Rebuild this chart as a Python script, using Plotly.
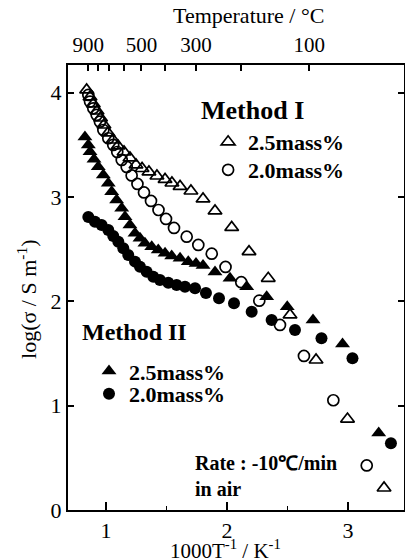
import plotly.graph_objects as go

# ---- data (x = 1000/T in K^-1, y = log(sigma / S m^-1)) ----
m1_25_x = [0.840, 0.868, 0.895, 0.926, 0.955, 0.983, 1.017, 1.058, 1.099, 1.149, 1.198, 1.248, 1.298, 1.355,
           1.421, 1.488, 1.545, 1.612, 1.702, 1.802, 1.901, 2.039, 2.182, 2.341, 2.521, 2.736, 2.996, 3.298]
m1_25_y = [4.027, 3.960, 3.893, 3.825, 3.758, 3.691, 3.615, 3.547, 3.490, 3.432, 3.375, 3.308, 3.274, 3.241,
           3.202, 3.169, 3.135, 3.102, 3.058, 2.982, 2.867, 2.709, 2.477, 2.221, 1.870, 1.438, 0.872, 0.211]

m1_20_x = [0.854, 0.868, 0.895, 0.923, 0.950, 0.978, 1.019, 1.060, 1.093, 1.130, 1.171, 1.212, 1.260, 1.314,
           1.372, 1.434, 1.496, 1.562, 1.667, 1.763, 1.874, 1.988, 2.118, 2.267, 2.438, 2.636, 2.879, 3.155]
m1_20_y = [3.979, 3.915, 3.851, 3.787, 3.723, 3.643, 3.564, 3.500, 3.432, 3.356, 3.289, 3.207, 3.126, 3.044,
           2.963, 2.876, 2.790, 2.704, 2.620, 2.541, 2.457, 2.330, 2.184, 2.007, 1.774, 1.477, 1.052, 0.427]

m2_25_x = [0.826, 0.854, 0.868, 0.901, 0.936, 0.978, 1.019, 1.047, 1.088, 1.130, 1.157, 1.198, 1.240, 1.281,
           1.322, 1.378, 1.432, 1.488, 1.543, 1.612, 1.680, 1.744, 1.802, 1.901, 2.025, 2.163, 2.328, 2.498,
           2.711, 2.955, 3.254]
m2_25_y = [3.576, 3.500, 3.435, 3.362, 3.291, 3.212, 3.132, 3.052, 2.972, 2.893, 2.812, 2.733, 2.653, 2.605,
           2.557, 2.524, 2.493, 2.461, 2.435, 2.413, 2.381, 2.363, 2.344, 2.282, 2.221, 2.141, 2.045, 1.949,
           1.822, 1.592, 0.738]

m2_20_x = [0.854, 0.909, 0.964, 1.019, 1.060, 1.102, 1.143, 1.184, 1.240, 1.281, 1.336, 1.391, 1.446, 1.515,
           1.584, 1.653, 1.736, 1.826, 1.934, 2.058, 2.204, 2.369, 2.562, 2.781, 3.037, 3.355]
m2_20_y = [2.809, 2.764, 2.733, 2.685, 2.627, 2.572, 2.509, 2.445, 2.381, 2.333, 2.285, 2.237, 2.205, 2.179,
           2.157, 2.141, 2.126, 2.081, 2.030, 1.982, 1.901, 1.822, 1.726, 1.646, 1.454, 0.639]

temp_ticks_c = [900, 800, 700, 600, 500, 400, 300, 200, 100]
temp_labels = ["900", "", "", "", "500", "", "300", "", "100"]

x_range = [0.686, 3.463]
y_range = [0, 4.266]

FONT = "Liberation Serif"
LEG_FONT = dict(size=22, family=FONT, weight="bold", color="black")


def one_legend(x, y):
    return dict(x=x, y=y, xanchor="left", yanchor="middle", bgcolor="rgba(0,0,0,0)",
                font=LEG_FONT, itemsizing="trace", borderwidth=0)


fig = go.Figure()
fig.add_trace(go.Scatter(x=m1_25_x, y=m1_25_y, mode="markers", name="2.5mass%", legend="legend",
                         marker=dict(symbol="triangle-up-open", size=12, color="black", line=dict(width=1.7))))
fig.add_trace(go.Scatter(x=m1_20_x, y=m1_20_y, mode="markers", name="2.0mass%", legend="legend2",
                         marker=dict(symbol="circle-open", size=11, color="black", line=dict(width=1.7))))
fig.add_trace(go.Scatter(x=m2_25_x, y=m2_25_y, mode="markers", name="2.5mass%", legend="legend3",
                         marker=dict(symbol="triangle-up", size=13, color="black", line=dict(width=0))))
fig.add_trace(go.Scatter(x=m2_20_x, y=m2_20_y, mode="markers", name="2.0mass%", legend="legend4",
                         marker=dict(symbol="circle", size=12, color="black", line=dict(width=0))))
# invisible trace to drive the top temperature axis
fig.add_trace(go.Scatter(x=[x_range[0]], y=[y_range[0]], xaxis="x2", mode="markers",
                         marker=dict(opacity=0), showlegend=False, hoverinfo="skip"))

top_vals = [1000.0 / (t + 273.15) for t in temp_ticks_c]

fig.update_layout(
    width=405, height=560,
    margin=dict(l=68, r=1, t=65, b=50, autoexpand=False),
    paper_bgcolor="white", plot_bgcolor="white",
    font=dict(family=FONT, color="black", size=21),
    showlegend=True,
    xaxis=dict(range=x_range, showgrid=False, zeroline=False, showline=True, linecolor="black", linewidth=2,
               ticks="inside", ticklen=8, tickwidth=1.5, tickcolor="black", tickvals=[1, 2, 3],
               minor=dict(ticks="inside", ticklen=4, dtick=0.5, tickcolor="black", tickwidth=1.2),
               tickfont=dict(size=22), mirror=False, automargin=False),
    xaxis2=dict(range=x_range, overlaying="x", side="top", showgrid=False, zeroline=False, showline=True,
                linecolor="black", linewidth=2, ticks="inside", ticklen=6, tickwidth=1.5, tickcolor="black",
                tickvals=top_vals, ticktext=temp_labels, tickfont=dict(size=21), automargin=False,
                ticklabelstandoff=3),
    yaxis=dict(range=y_range, showgrid=False, zeroline=False, showline=True, linecolor="black", linewidth=2,
               ticks="inside", ticklen=6, tickwidth=1.5, tickcolor="black", tickvals=[0, 1, 2, 3, 4],
               mirror="ticks", tickfont=dict(size=22), automargin=False),
    legend=one_legend(0.417, 0.827),
    legend2=one_legend(0.417, 0.764),
    legend3=one_legend(0.0625, 0.312),
    legend4=one_legend(0.0625, 0.261),
    annotations=[
        dict(text="Temperature / °C", xref="paper", yref="paper", x=0.536, y=1.112, xanchor="center",
             yanchor="middle", showarrow=False, font=dict(size=22, family=FONT)),
        dict(text="1000T<sup>-1</sup> / K<sup>-1</sup>", xref="paper", yref="paper", x=0.470, y=-0.088,
             xanchor="center", yanchor="middle", showarrow=False, font=dict(size=21, family=FONT)),
        dict(text="log(σ / S m<sup>-1</sup>)", xref="paper", yref="paper", x=-0.122, y=0.472, textangle=-90,
             xanchor="center", yanchor="middle", showarrow=False, font=dict(size=22, family=FONT)),
        dict(text="Method I", xref="paper", yref="paper", x=0.548, y=0.897, xanchor="center", yanchor="middle",
             showarrow=False, font=dict(size=26, family=FONT, weight="bold")),
        dict(text="Method II", xref="paper", yref="paper", x=0.199, y=0.400, xanchor="center", yanchor="middle",
             showarrow=False, font=dict(size=24, family=FONT, weight="bold")),
        dict(text="Rate : -10℃/min<br>in air", xref="paper", yref="paper", x=0.372, y=0.076,
             xanchor="left", yanchor="middle", align="left", showarrow=False,
             font=dict(size=20, family=FONT, weight="bold")),
    ],
)

fig.write_html("out.html", config={"displayModeBar": False},
               post_script="document.body.style.margin='0px';")
